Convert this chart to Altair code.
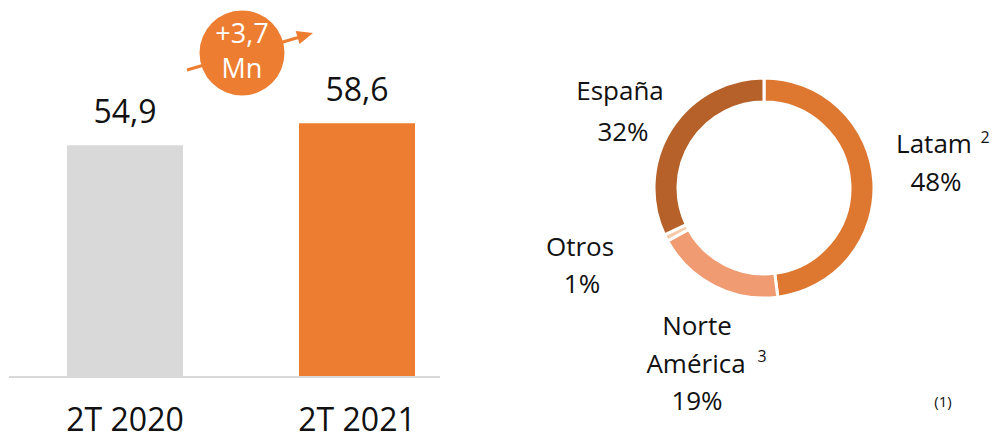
import altair as alt
import pandas as pd

# ---------------- data ----------------
categories = ["2T 2020", "2T 2021"]
values = [54.9, 58.6]
segments = ["Latam", "Norte América", "Otros", "España"]
shares = [48, 19, 1, 32]
superscripts = {"Latam": "2", "Norte América": "3"}
delta_unit = "Mn"
footnote = "(1)"

# ---------------- style ----------------
FONT = "Open Sans"
ORANGE = "#ED7D31"
GRAY = "#D9D9D9"
SEG_COLORS = ["#DE772F", "#F09B72", "#F8CBAD", "#B6612A"]
W, H = 984, 432
Y_MIN = 16


def fmt(v):
    return f"{v:.1f}".replace(".", ",")


bar_df = pd.DataFrame({"cat": categories, "val": values,
                       "label": [fmt(v) for v in values]})

xenc = alt.X("cat:N", sort=categories, axis=None,
             scale=alt.Scale(range=[1, 465], paddingInner=0.5, paddingOuter=0.25))
yenc = alt.Y("val:Q", axis=None,
             scale=alt.Scale(domain=[Y_MIN, 60], range=[369, 107], zero=False, nice=False))

bars = alt.Chart(bar_df).mark_bar().encode(
    x=xenc, y=yenc, y2=alt.datum(Y_MIN),
    color=alt.Color("cat:N", scale=alt.Scale(domain=categories, range=[GRAY, ORANGE]), legend=None),
)
bar_labels = alt.Chart(bar_df).mark_text(
    font=FONT, fontSize=32, dy=-32, baseline="middle", align="center", color="#111"
).encode(x=xenc, y=yenc, text="label:N")

cat_labels = alt.Chart(bar_df).mark_text(
    font=FONT, fontSize=32, baseline="middle", align="center", color="#111"
).encode(x=xenc, y=alt.value(413), text="cat:N")

baseline_rule = alt.Chart(bar_df.head(1)).mark_rule(color=GRAY, strokeWidth=2).encode(
    x=alt.value(1), x2=alt.value(432), y=alt.value(369))

# ---------------- delta bubble ----------------
delta = values[1] - values[0]
delta_lines = [("+" if delta >= 0 else "") + fmt(delta), delta_unit]
one = pd.DataFrame({"d": [delta]})

arrow_line = alt.Chart(one).mark_rule(color=ORANGE, strokeWidth=3).encode(
    x=alt.value(179), y=alt.value(62), x2=alt.value(292), y2=alt.value(29))
arrow_head = alt.Chart(one).mark_point(
    shape="M-1,-0.85L1,0L-1,0.85Z", filled=True, opacity=1, color=ORANGE,
    size=256, angle=343.6
).encode(x=alt.value(297.3), y=alt.value(27.3))
bubble = alt.Chart(one).mark_point(
    shape="circle", filled=True, opacity=1, color=ORANGE, size=7225
).encode(x=alt.value(234), y=alt.value(45))
bubble_text = []
for txt, yy in zip(delta_lines, [27, 62]):
    bubble_text.append(
        alt.Chart(pd.DataFrame({"t": [txt]})).mark_text(
            font=FONT, fontSize=27, color="white", baseline="middle", align="center"
        ).encode(x=alt.value(234), y=alt.value(yy), text="t:N"))

# ---------------- donut ----------------
don_df = pd.DataFrame({"seg": segments, "share": shares, "ord": list(range(len(segments)))})
donut = alt.Chart(don_df).mark_arc(radius=110, radius2=86, stroke="white", strokeWidth=3).encode(
    theta=alt.Theta("share:Q", stack=True),
    order=alt.Order("ord:Q"),
    color=alt.Color("seg:N", scale=alt.Scale(domain=segments, range=SEG_COLORS), legend=None),
    x=alt.value(756), y=alt.value(180),
)

# label layout (centre of each text line, plot coordinates)
layout = {
    "Latam": [(926, 137), (928, 175)],
    "Norte América": [(689, 319), (688, 357), (689, 394)],
    "Otros": [(572, 240), (574, 277)],
    "España": [(612, 84), (615, 125)],
}
sup_layout = {"Latam": (977, 130), "Norte América": (754, 349)}

donut_labels = []
for seg, sh in zip(segments, shares):
    lines = seg.split(" ") + [f"{sh}%"]
    for line, (xx, yy) in zip(lines, layout[seg]):
        donut_labels.append(
            alt.Chart(pd.DataFrame({"t": [line]})).mark_text(
                font=FONT, fontSize=26, color="#111", baseline="middle", align="center"
            ).encode(x=alt.value(xx), y=alt.value(yy), text="t:N"))
    if seg in superscripts:
        xx, yy = sup_layout[seg]
        donut_labels.append(
            alt.Chart(pd.DataFrame({"t": [superscripts[seg]]})).mark_text(
                font=FONT, fontSize=16, color="#111", baseline="middle", align="center"
            ).encode(x=alt.value(xx), y=alt.value(yy), text="t:N"))

foot = alt.Chart(pd.DataFrame({"t": [footnote]})).mark_text(
    font=FONT, fontSize=15, color="#111", baseline="middle", align="center"
).encode(x=alt.value(935), y=alt.value(394), text="t:N")

chart = alt.layer(
    bars, baseline_rule, bar_labels, cat_labels,
    arrow_line, bubble, arrow_head, *bubble_text,
    donut, *donut_labels, foot,
).resolve_scale(color="independent").properties(
    width=W, height=H, padding=0, autosize=alt.AutoSizeParams(type="none"),
).configure_view(stroke=None)

chart.save("out.html", embed_options={"renderer": "svg", "actions": False})
